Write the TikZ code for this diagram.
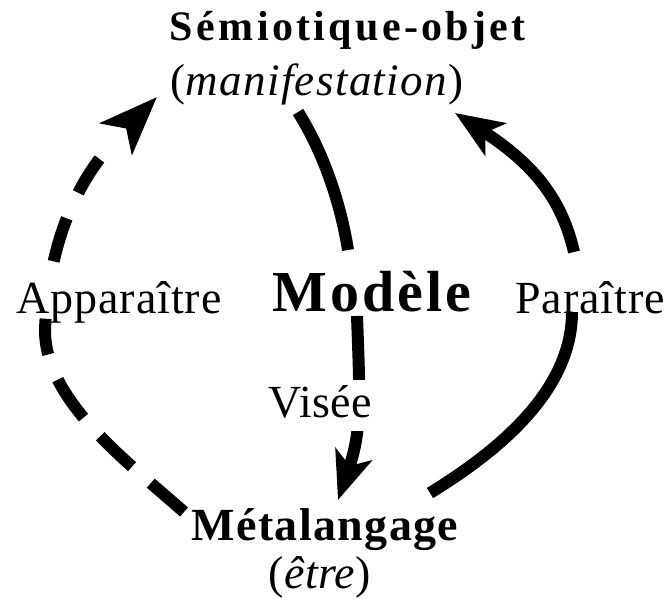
\documentclass[tikz,border=0pt]{standalone}
\usepackage{fontspec}
\setmainfont{Liberation Serif}
\usetikzlibrary{arrows.meta}

\begin{document}
\begin{tikzpicture}[x=1pt,y=-1pt,
  lbl/.style={anchor=base, inner sep=0pt},
  conn/.style={line width=12pt, line cap=butt},
  tipped/.style={-{Stealth[length=48pt,width=38pt,inset=12pt]}},
  bigtip/.style={-{Stealth[length=58pt,width=44pt,inset=14pt]}},
]
\useasboundingbox (0,0) rectangle (669,600);

% labels
\node[lbl] (semio) at (348,40)
  {\fontsize{42}{46}\selectfont\bfseries\addfontfeatures{LetterSpace=8}Sémiotique-objet};
\node[lbl] (manif) at (317,95)
  {\fontsize{45}{49}\selectfont\addfontfeatures{LetterSpace=3}(\textit{manifestation})};
\node[lbl] (appar) at (119,313)
  {\fontsize{46}{50}\selectfont\addfontfeatures{LetterSpace=2}Apparaître};
\node[lbl] (modele) at (372,311)
  {\fontsize{58}{62}\selectfont\bfseries\addfontfeatures{LetterSpace=5}Modèle};
\node[lbl] (parait) at (590,313)
  {\fontsize{46}{50}\selectfont\addfontfeatures{LetterSpace=2}Paraître};
\node[lbl] (meta) at (325,540)
  {\fontsize{46}{50}\selectfont\bfseries\addfontfeatures{LetterSpace=3}Métalangage};
\node[lbl] (etre) at (320,588)
  {\fontsize{46}{50}\selectfont\addfontfeatures{LetterSpace=1}(\textit{être})};

% connector end points
\coordinate (meta-l) at (184,512);
\coordinate (appar-w) at (45,330);
\coordinate (manif-l) at (157,97);
\coordinate (manif-m) at (298,112);
\coordinate (modele-t) at (348,250);
\coordinate (modele-b) at (357,316);
\coordinate (meta-t) at (338,500);
\coordinate (meta-r) at (430,493);
\coordinate (parait-b) at (572,312);
\coordinate (parait-t) at (574,252);
\coordinate (manif-r) at (455,113);

% Apparaître: dashed arc
\draw[conn, bigtip, dash pattern=on 44pt off 25pt on 44pt off 25pt on 46pt off 27pt on 36pt off 58pt on 45pt off 28pt on 40pt off 60pt]
  (meta-l) .. controls (124,459) and (45,400) .. (appar-w)
           .. controls (50,200) and (110,145) .. (manif-l);

% Modèle
\draw[conn] (manif-m) .. controls (322,150) and (340,200) .. (modele-t);
\draw[conn, tipped] (modele-b) .. controls (360,400) and (362,430) .. (meta-t);

% Paraître
\draw[conn] (meta-r) .. controls (500,450) and (572,390) .. (parait-b);
\draw[conn, tipped] (parait-t) .. controls (562,200) and (535,165) .. (manif-r);

% Visée sits on a white patch over its arrow
\node[lbl, fill=white, inner xsep=2pt, inner ysep=5pt, text depth=9pt] (visee) at (320,417)
  {\fontsize{46}{50}\selectfont\addfontfeatures{LetterSpace=1}Visée};
\end{tikzpicture}
\end{document}
